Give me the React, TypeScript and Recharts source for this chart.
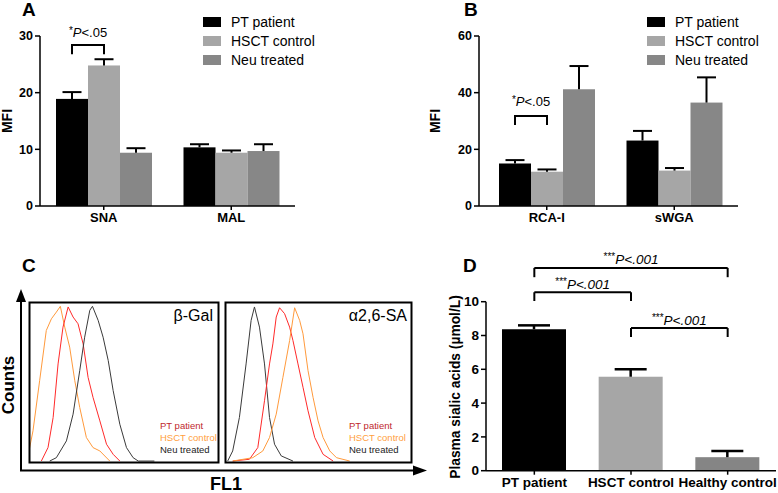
import React from 'react';
import { BarChart, Bar, XAxis, YAxis, LineChart, Line, ReferenceLine, Cell } from 'recharts';

const FONT = '"Liberation Sans", Arial, Helvetica, sans-serif';

const seriesNames = ['PT patient', 'HSCT control', 'Neu treated'];
const seriesColors = ['#000000', '#a6a6a6', '#878787'];

// A - sialic acid lectins (MFI, mean + SEM)
const lectinsA = ['SNA', 'MAL'];
const ptA = [18.9, 10.35];
const ptErrA = [1.2, 0.55];
const hsctA = [24.8, 9.4];
const hsctErrA = [1.1, 0.4];
const neuA = [9.4, 9.7];
const neuErrA = [0.8, 1.2];
const ticksA = [0, 10, 20, 30];

// B - galactose lectins
const lectinsB = ['RCA-I', 'sWGA'];
const ptB = [15.0, 23.1];
const ptErrB = [1.2, 3.4];
const hsctB = [12.1, 12.5];
const hsctErrB = [0.8, 0.9];
const neuB = [41.2, 36.5];
const neuErrB = [8.2, 8.9];
const ticksB = [0, 20, 40, 60];

// C - flow histograms, [FL1 position %, counts %]
const galPT = [[6.5, 0.6], [10.0, 9.0], [12.7, 27.8], [15.3, 61.3], [17.9, 84.3], [20.6, 96.9], [23.2, 90.6], [25.8, 86.4], [28.5, 73.8], [31.1, 52.9], [33.7, 40.4], [37.3, 25.7], [40.8, 11.1], [44.3, 4.8], [47.8, 0.6]];
const galHSCT = [[0, 6.9], [2.1, 19.5], [5.6, 50.8], [9.1, 82.2], [11.8, 89.5], [14.4, 93.7], [16.5, 97.3], [18.8, 84.3], [21.4, 71.8], [24.1, 50.8], [26.7, 34.1], [30.2, 15.3], [33.7, 9.0], [37.3, 6.9], [42.5, 0.6]];
const galNeu = [[10.9, 0.6], [14.4, 2.7], [19.7, 13.2], [23.2, 29.9], [26.7, 57.1], [29.3, 78.0], [32.0, 94.8], [33.4, 97.3], [36.4, 88.5], [39.0, 78.0], [41.7, 63.4], [44.3, 44.6], [47.8, 23.6], [51.3, 9.0], [54.8, 2.7], [57.5, 0.6], [66.0, 0.6]];
const saPT = [[3.6, 0.6], [12.6, 1.7], [17.1, 9.0], [20.7, 38.3], [23.4, 61.3], [25.2, 73.8], [27.0, 90.6], [28.8, 96.4], [31.5, 92.7], [34.2, 84.3], [36.0, 75.9], [38.7, 61.3], [41.4, 46.7], [44.1, 32.0], [47.7, 15.3], [52.2, 4.8], [57.6, 0.6]];
const saHSCT = [[3.6, 0.6], [14.4, 2.7], [19.8, 6.9], [23.4, 15.3], [27.0, 29.9], [30.6, 52.9], [34.2, 75.9], [36.9, 96.4], [39.6, 88.5], [41.4, 80.1], [44.1, 57.1], [46.8, 40.4], [49.5, 25.7], [52.2, 15.3], [55.8, 6.9], [59.4, 2.7], [66.5, 0.6]];
const saNeu = [[0.9, 0.6], [3.6, 6.9], [7.2, 27.8], [10.8, 61.3], [13.5, 88.5], [15.3, 96.9], [18.0, 84.3], [20.7, 61.3], [23.4, 27.8], [26.1, 11.1], [29.7, 3.8], [36.0, 0.6]];
const histColors = { pt: '#ff2a2a', hsct: '#ff9a3c', neu: '#3a3a3a' };

// D - plasma sialic acids
const groupsD = ['PT patient', 'HSCT control', 'Healthy control'];
const sialicD = [8.37, 5.56, 0.8];
const sialicErrD = [0.23, 0.44, 0.37];
const colorsD = ['#000000', '#a6a6a6', '#858585'];
const ticksD = [0, 2, 4, 6, 8, 10];

const rowsA = lectinsA.map((name, i) => ({
  name, pt: ptA[i], ptErr: ptErrA[i], hsct: hsctA[i], hsctErr: hsctErrA[i], neu: neuA[i], neuErr: neuErrA[i],
}));
const rowsB = lectinsB.map((name, i) => ({
  name, pt: ptB[i], ptErr: ptErrB[i], hsct: hsctB[i], hsctErr: hsctErrB[i], neu: neuB[i], neuErr: neuErrB[i],
}));
const rowsD = groupsD.map((name, i) => ({ name, value: sialicD[i], err: sialicErrD[i] }));

type Bracket = { index: number; top: number; foot: number; gap: number };

// bar with an upward-only SEM whisker (and optional bracket to the next bar)
const errorBarShape = (valKey: string, errKey: string, half: number, sw: number, bracket?: Bracket) =>
  (props: any) => {
    const { x, y, width, height, fill, payload, index } = props;
    const v = payload[valKey];
    const k = height / v;
    const cx = x + width / 2;
    const yErr = y - payload[errKey] * k;
    let br = null;
    if (bracket && index === bracket.index) {
      const base = y + height;
      const yt = base - bracket.top * k;
      const yf = base - bracket.foot * k;
      const x2 = cx + width;
      br = (
        <g>
          <path d={`M${cx},${yf}V${yt}H${x2}V${yf}`} stroke="#000" strokeWidth={2} fill="none" />
          <text x={(cx + x2) / 2} y={yt - bracket.gap} textAnchor="middle" fontFamily={FONT} fontSize={13} fill="#000">
            <tspan fontSize={10} dy={-3.5}>*</tspan>
            <tspan fontStyle="italic" dy={3.5}>P</tspan>
            <tspan>{'<.05'}</tspan>
          </text>
        </g>
      );
    }
    return (
      <g>
        <rect x={x} y={y} width={width} height={height} fill={fill} />
        <line x1={cx} y1={y} x2={cx} y2={yErr} stroke="#000" strokeWidth={sw} />
        <line x1={cx - half} y1={yErr} x2={cx + half} y2={yErr} stroke="#000" strokeWidth={sw} />
        {br}
      </g>
    );
  };

const axisLine = { stroke: '#000', strokeWidth: 1.5 };

function LectinPanel({ rows, ticks, max, width, yWidth, right, padLeft, bracket }: any) {
  return (
    <BarChart width={width} height={230} data={rows} margin={{ top: 36, right, bottom: 0, left: 0 }} barGap={0} barSize={32}>
      <XAxis dataKey="name" height={24} padding={{ left: padLeft, right: 0 }} axisLine={axisLine} tickLine={axisLine}
        tickSize={4} tickMargin={3} tick={{ fill: '#000', fontSize: 13, fontWeight: 'bold', fontFamily: FONT }} />
      <YAxis width={yWidth} domain={[0, max]} ticks={ticks} axisLine={axisLine} tickLine={axisLine} tickSize={5}
        tick={{ fill: '#000', fontSize: 12.5, fontWeight: 'bold', fontFamily: FONT }} />
      <Bar dataKey="pt" fill={seriesColors[0]} shape={errorBarShape('pt', 'ptErr', 9.5, 2, bracket)} isAnimationActive={false} />
      <Bar dataKey="hsct" fill={seriesColors[1]} shape={errorBarShape('hsct', 'hsctErr', 9.5, 2)} isAnimationActive={false} />
      <Bar dataKey="neu" fill={seriesColors[2]} shape={errorBarShape('neu', 'neuErr', 9.5, 2)} isAnimationActive={false} />
    </BarChart>
  );
}

function BarLegend({ left, top }: { left: number; top: number }) {
  return (
    <div style={{ position: 'absolute', left, top, fontFamily: FONT }}>
      {seriesNames.map((n, i) => (
        <div key={n} style={{ display: 'flex', alignItems: 'center', height: 19.4 }}>
          <span style={{ width: 18, height: 10, background: seriesColors[i], marginRight: 10 }} />
          <span style={{ fontSize: 14, color: '#000' }}>{n}</span>
        </div>
      ))}
    </div>
  );
}

function Histogram({ curves, left, width }: any) {
  return (
    <div style={{ position: 'absolute', left, top: 302, width, height: 160 }}>
      <LineChart width={width} height={160} margin={{ top: 0, right: 0, bottom: 0, left: 0 }}>
        <XAxis type="number" dataKey="x" domain={[0, 100]} hide />
        <YAxis type="number" domain={[0, 100]} hide />
        {curves.map((c: any) => (
          <Line key={c.key} data={c.pts.map(([x, y]: number[]) => ({ x, y }))} dataKey="y" type="linear"
            stroke={c.color} strokeWidth={1} dot={false} isAnimationActive={false} />
        ))}
      </LineChart>
    </div>
  );
}

function SigText({ viewBox, stars, p }: any) {
  if (!viewBox) return null;
  return (
    <text x={viewBox.x + viewBox.width / 2} y={viewBox.y - 3.5} textAnchor="middle" fontFamily={FONT} fontSize={13.5} fill="#000">
      <tspan fontSize={10} dy={-4}>{stars}</tspan>
      <tspan fontStyle="italic" dy={4}>{p}</tspan>
    </text>
  );
}

const sigD = [
  { from: 'PT patient', to: 'Healthy control', top: 12.0, foot: 11.45 },
  { from: 'PT patient', to: 'HSCT control', top: 10.56, foot: 10.04 },
  { from: 'HSCT control', to: 'Healthy control', top: 8.44, foot: 7.91 },
];

export default function App() {
  const txt = { fontFamily: FONT, fill: '#000' };
  return (
    <div style={{ position: 'absolute', left: 0, top: 0, width: 778, height: 493, background: '#fff', overflow: 'hidden' }}>
      <div style={{ position: 'absolute', left: 0, top: 0 }}>
        <LectinPanel rows={rowsA} ticks={ticksA} max={30} width={390} yWidth={40} right={95} padLeft={0}
          bracket={{ index: 0, top: 28.4, foot: 26.8, gap: 8 }} />
      </div>
      <div style={{ position: 'absolute', left: 390, top: 0 }}>
        <LectinPanel rows={rowsB} ticks={ticksB} max={60} width={388} yWidth={89} right={40} padLeft={4}
          bracket={{ index: 0, top: 31.8, foot: 28.6, gap: 9.5 }} />
      </div>
      <BarLegend left={203} top={12} />
      <BarLegend left={647} top={12} />

      <Histogram left={29} width={190} curves={[
        { key: 'hsct', pts: galHSCT, color: histColors.hsct },
        { key: 'pt', pts: galPT, color: histColors.pt },
        { key: 'neu', pts: galNeu, color: histColors.neu },
      ]} />
      <Histogram left={226} width={186} curves={[
        { key: 'neu', pts: saNeu, color: histColors.neu },
        { key: 'pt', pts: saPT, color: histColors.pt },
        { key: 'hsct', pts: saHSCT, color: histColors.hsct },
      ]} />

      <div style={{ position: 'absolute', left: 390, top: 230 }}>
        <BarChart width={388} height={263} data={rowsD} margin={{ top: 71.7, right: 2, bottom: 0, left: 0 }} barSize={64}>
          <XAxis dataKey="name" height={22.3} axisLine={axisLine} tickLine={axisLine} tickSize={4} tickMargin={3}
            tick={{ fill: '#000', fontSize: 13.5, fontWeight: 'bold', fontFamily: FONT }} />
          <YAxis width={96} domain={[0, 10]} ticks={ticksD} axisLine={axisLine} tickLine={axisLine} tickSize={5} tickMargin={2}
            tick={{ fill: '#000', fontSize: 13.5, fontWeight: 'bold', fontFamily: FONT }} />
          <Bar dataKey="value" shape={errorBarShape('value', 'err', 16, 2.5)} isAnimationActive={false}>
            {rowsD.map((r, i) => <Cell key={r.name} fill={colorsD[i]} />)}
          </Bar>
          {sigD.map((s, i) => (
            <React.Fragment key={i}>
              <ReferenceLine segment={[{ x: s.from, y: s.top }, { x: s.to, y: s.top }]} stroke="#000" strokeWidth={2}
                ifOverflow="visible" label={<SigText stars="***" p="P<.001" />} />
              <ReferenceLine segment={[{ x: s.from, y: s.top }, { x: s.from, y: s.foot }]} stroke="#000" strokeWidth={2} ifOverflow="visible" />
              <ReferenceLine segment={[{ x: s.to, y: s.top }, { x: s.to, y: s.foot }]} stroke="#000" strokeWidth={2} ifOverflow="visible" />
            </React.Fragment>
          ))}
        </BarChart>
      </div>

      <svg width={778} height={493} style={{ position: 'absolute', left: 0, top: 0, pointerEvents: 'none' }}>
        <text x={22} y={16} fontSize={19} fontWeight="bold" {...txt}>A</text>
        <text x={464} y={16} fontSize={19} fontWeight="bold" {...txt}>B</text>
        <text x={22} y={272} fontSize={19} fontWeight="bold" {...txt}>C</text>
        <text x={463} y={272} fontSize={19} fontWeight="bold" {...txt}>D</text>
        <text transform="translate(7,121) rotate(-90)" textAnchor="middle" dominantBaseline="central" fontSize={14} fontWeight="bold" {...txt}>MFI</text>
        <text transform="translate(435,121) rotate(-90)" textAnchor="middle" dominantBaseline="central" fontSize={14} fontWeight="bold" {...txt}>MFI</text>
        <text transform="translate(455,387) rotate(-90)" textAnchor="middle" dominantBaseline="central" fontSize={13.8} fontWeight="bold" {...txt}>Plasma sialic acids (µmol/L)</text>

        {/* panel C frame */}
        <rect x={29.5} y={302.5} width={189} height={160} fill="none" stroke="#000" strokeWidth={2} />
        <rect x={225.5} y={302.5} width={186} height={160} fill="none" stroke="#000" strokeWidth={2} />
        <line x1={21} y1={471} x2={21} y2={300} stroke="#000" strokeWidth={2} />
        <polygon points="21,289 16,302 26,302" fill="#000" />
        <line x1={20} y1={470.5} x2={415} y2={470.5} stroke="#000" strokeWidth={2} />
        <polygon points="427,470.5 413,465.5 413,475.5" fill="#000" />
        <text transform="translate(8,385) rotate(-90)" textAnchor="middle" dominantBaseline="central" fontSize={17} fontWeight="bold" {...txt}>Counts</text>
        <text x={226} y={490} textAnchor="middle" fontSize={18} fontWeight="bold" {...txt}>FL1</text>
        <text x={213} y={321} textAnchor="end" fontSize={16} {...txt}>β-Gal</text>
        <text x={407} y={321} textAnchor="end" fontSize={16} {...txt}>α2,6-SA</text>
        {[160, 349].map((lx) => (
          <g key={lx} fontFamily={FONT} fontSize={9.5}>
            <text x={lx} y={429} fill="#c0282d">PT patient</text>
            <text x={lx} y={441} fill="#ffa040">HSCT control</text>
            <text x={lx} y={453} fill="#222">Neu treated</text>
          </g>
        ))}
      </svg>
    </div>
  );
}
